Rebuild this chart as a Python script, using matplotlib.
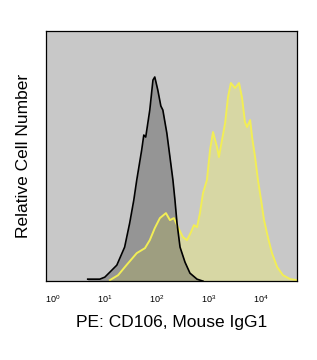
import matplotlib
matplotlib.use('Agg')
from matplotlib import pyplot as plt

plt.rcParams['font.family'] = ['Liberation Sans', 'DejaVu Sans']
plt.rcParams['mathtext.fontset'] = 'custom'
plt.rcParams['mathtext.rm'] = 'Liberation Sans'
plt.rcParams['mathtext.it'] = 'Liberation Sans'

# Isotype control (black outline, dark grey fill)
iso_x = [4.7, 8.0, 10, 12.5, 17, 24, 30, 36, 41, 51, 56, 61, 73, 84, 91, 104, 119, 130,
         155, 178, 203, 222, 243, 278, 346, 431, 589, 767]
iso_y = [0.8, 0.8, 1.6, 3.6, 6.4, 13.6, 23.2, 32.4, 40.4, 52.4, 58.4, 57.6, 68.4, 80.4, 81.6,
         76.4, 70.0, 68.4, 59.2, 49.6, 40.4, 32.4, 23.2, 13.6, 7.6, 3.2, 0.8, 0]

# CD106 stained (yellow)
cd_x = [12.5, 18, 26, 41, 59, 73, 91, 114, 149, 178, 212, 253, 316, 378, 451, 514, 589, 671,
        767, 912, 1047, 1194, 1425, 1550, 1778, 2040, 2318, 2630, 3162, 3775, 4313, 4900,
        5370, 6166, 6714, 7670, 8710, 10000, 11400, 13650, 16200, 20400, 26300, 36300, 49000]
cd_y = [0.4, 2.4, 6.4, 11.2, 13.2, 16.4, 21.2, 25.2, 27.2, 24.4, 25.2, 21.6, 17.6, 16.4, 19.6,
        22.4, 21.6, 27.2, 35.2, 40.4, 52.4, 59.6, 53.6, 49.6, 56.4, 63.2, 73.6, 79.2, 77.2,
        79.2, 73.2, 63.6, 61.6, 64.4, 57.6, 49.6, 40.4, 32.4, 24.4, 17.2, 11.2, 5.6, 2.4,
        0.8, 0.4]

tick_vals = [1, 10, 100, 1000, 10000]
tick_labels = ['$10^0$', '$10^1$', '$10^2$', '$10^3$', '$10^4$']

fig = plt.figure(figsize=(3.17, 3.6), dpi=100)
ax = fig.add_axes([0.145, 0.219, 0.792, 0.695])
ax.set_facecolor('#c8c8c8')

ax.fill_between(cd_x, cd_y, 0, color='#e6e682', alpha=0.5, lw=0)
ax.fill_between(iso_x, iso_y, 0, color='#505050', alpha=0.42, lw=0)
ax.plot(cd_x, cd_y, color='#f2ee55', lw=1.4)
ax.plot(iso_x, iso_y, color='black', lw=1.2)

ax.set_xscale('log')
ax.set_xlim(10 ** -0.13, 10 ** 4.69)
ax.set_ylim(0, 100)
ax.set_xticks(tick_vals)
ax.set_xticklabels(tick_labels, fontsize=6.5)
ax.minorticks_off()
ax.tick_params(axis='x', length=0, pad=9)
ax.set_yticks([])
for s in ax.spines.values():
    s.set_linewidth(0.9)

ax.set_xlabel('PE: CD106, Mouse IgG1', fontsize=12.5, labelpad=7)
ax.set_ylabel('Relative Cell Number', fontsize=12.5, labelpad=11)

fig.savefig('out.png', dpi=100)
